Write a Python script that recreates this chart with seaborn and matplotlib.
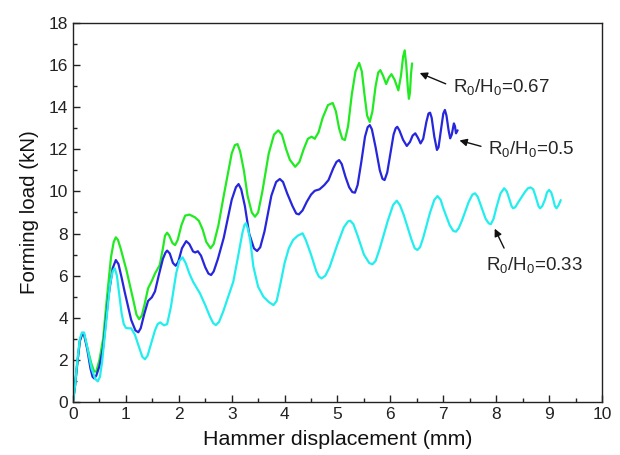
import numpy as np
import pandas as pd
import matplotlib
matplotlib.use('Agg')
import matplotlib.pyplot as plt
from matplotlib.ticker import MultipleLocator
import seaborn as sns

x_067 = [0.0, 0.04, 0.08, 0.13, 0.17, 0.21, 0.27, 0.35, 0.4, 0.44, 0.5, 0.57, 0.64, 0.72, 0.77, 0.81,
         0.85, 0.9, 1.01, 1.14, 1.2, 1.25, 1.3, 1.35, 1.42, 1.49, 1.55, 1.64, 1.7, 1.74, 1.78,
         1.82, 1.88, 1.93, 1.98, 2.05, 2.12, 2.2, 2.3, 2.38, 2.45, 2.52, 2.6, 2.66, 2.75, 2.85,
         3.0, 3.06, 3.11, 3.16, 3.23, 3.3, 3.38, 3.44, 3.5, 3.58, 3.7, 3.8, 3.88, 3.95, 4.03,
         4.1, 4.2, 4.28, 4.36, 4.44, 4.51, 4.57, 4.64, 4.72, 4.82, 4.91, 4.97, 5.03, 5.09, 5.14,
         5.2, 5.27, 5.34, 5.41, 5.46, 5.51, 5.56, 5.61, 5.66, 5.72, 5.77, 5.81, 5.86, 5.92, 5.97,
         6.02, 6.08, 6.15, 6.2, 6.24, 6.27, 6.3, 6.33, 6.35, 6.37, 6.39, 6.41]
y_067 = [0.0, 0.8, 1.8, 2.9, 3.2, 3.2, 2.6, 1.8, 1.45, 1.44, 2.0, 3.0, 4.9, 6.9, 7.6, 7.82,
         7.7, 7.3, 6.27, 4.84, 4.15, 3.93, 4.1, 4.6, 5.4, 5.75, 6.1, 6.5, 7.3, 7.9, 8.04,
         7.9, 7.55, 7.45, 7.7, 8.4, 8.85, 8.9, 8.78, 8.6, 8.2, 7.6, 7.3, 7.5, 8.4, 9.8,
         11.8, 12.2, 12.25, 11.9, 11.0, 9.8, 9.0, 8.8, 9.0, 10.0, 11.8, 12.7, 12.9, 12.7, 12.0,
         11.5, 11.17, 11.4, 12.0, 12.5, 12.6, 12.5, 12.8, 13.5, 14.1, 14.2, 13.8, 13.0, 12.5, 12.44,
         13.1, 14.6, 15.7, 16.1, 15.7, 14.6, 13.6, 13.3, 13.8, 15.0, 15.65, 15.76, 15.5, 15.1, 15.4,
         15.57, 15.3, 14.8, 15.5, 16.4, 16.7, 16.0, 14.9, 14.4, 14.7, 15.6, 16.08]

x_05 = [0.0, 0.04, 0.08, 0.13, 0.17, 0.21, 0.27, 0.33, 0.37, 0.4, 0.44, 0.5, 0.57, 0.67, 0.75, 0.81,
        0.86, 0.92, 0.98, 1.1, 1.18, 1.235, 1.28, 1.35, 1.42, 1.49, 1.55, 1.62, 1.7, 1.75, 1.78,
        1.83, 1.89, 1.94, 1.99, 2.06, 2.14, 2.2, 2.27, 2.31, 2.36, 2.42, 2.5, 2.56, 2.61, 2.66,
        2.74, 2.85, 3.0, 3.08, 3.13, 3.18, 3.25, 3.33, 3.42, 3.48, 3.54, 3.62, 3.75, 3.84, 3.91,
        3.97, 4.05, 4.15, 4.22, 4.27, 4.34, 4.42, 4.5, 4.57, 4.66, 4.75, 4.83, 4.92, 4.98, 5.03,
        5.08, 5.15, 5.22, 5.28, 5.33, 5.38, 5.45, 5.52, 5.57, 5.61, 5.65, 5.72, 5.8, 5.85, 5.89,
        5.94, 6.0, 6.06, 6.1, 6.13, 6.17, 6.24, 6.31, 6.37, 6.42, 6.47, 6.52, 6.57, 6.62, 6.68,
        6.72, 6.75, 6.78, 6.83, 6.88, 6.91, 6.96, 7.0, 7.03, 7.06, 7.1, 7.13, 7.16, 7.2, 7.22,
        7.24, 7.27]
y_05 = [0.0, 0.8, 1.8, 2.9, 3.2, 3.2, 2.5, 1.6, 1.2, 1.12, 1.25, 1.7, 2.6, 5.0, 6.35, 6.74,
        6.55, 5.9, 5.2, 3.9, 3.4, 3.31, 3.5, 4.2, 4.8, 4.97, 5.25, 6.0, 6.8, 7.1, 7.19,
        7.05, 6.6, 6.47, 6.65, 7.3, 7.64, 7.5, 7.15, 7.1, 7.16, 6.95, 6.4, 6.1, 6.03, 6.2,
        6.8, 7.8, 9.6, 10.2, 10.35, 10.1, 9.3, 8.0, 7.3, 7.17, 7.35, 8.1, 9.8, 10.45, 10.59,
        10.45, 9.9, 9.3, 8.95, 8.91, 9.1, 9.51, 9.85, 10.03, 10.1, 10.3, 10.54, 11.1, 11.4, 11.49,
        11.3, 10.7, 10.2, 9.97, 9.94, 10.3, 11.4, 12.6, 13.05, 13.15, 12.95, 12.1, 11.0, 10.6, 10.54,
        10.9, 11.8, 12.7, 13.0, 13.07, 12.9, 12.45, 12.16, 12.35, 12.65, 12.76, 12.55, 12.28, 12.5, 13.3,
        13.7, 13.74, 13.5, 12.6, 11.97, 12.1, 13.0, 13.7, 13.87, 13.6, 12.9, 12.52, 12.7, 13.23, 13.1,
        12.76, 12.9]

x_033 = [0.0, 0.04, 0.08, 0.13, 0.17, 0.21, 0.27, 0.35, 0.42, 0.47, 0.51, 0.55, 0.62, 0.7, 0.75, 0.79,
         0.83, 0.87, 0.92, 0.96, 1.0, 1.05, 1.1, 1.17, 1.25, 1.31, 1.36, 1.41, 1.48, 1.55, 1.6,
         1.65, 1.72, 1.78, 1.85, 1.95, 2.01, 2.07, 2.13, 2.2, 2.27, 2.4, 2.5, 2.59, 2.65, 2.7,
         2.76, 2.84, 2.92, 3.03, 3.12, 3.2, 3.24, 3.27, 3.31, 3.35, 3.41, 3.5, 3.6, 3.7, 3.79,
         3.85, 3.92, 4.0, 4.08, 4.16, 4.25, 4.34, 4.4, 4.5, 4.6, 4.65, 4.7, 4.77, 4.85, 5.0,
         5.12, 5.2, 5.24, 5.3, 5.38, 5.5, 5.6, 5.66, 5.72, 5.8, 5.95, 6.05, 6.12, 6.18, 6.25,
         6.4, 6.46, 6.51, 6.56, 6.62, 6.75, 6.83, 6.89, 6.95, 7.0, 7.12, 7.19, 7.24, 7.29, 7.35,
         7.48, 7.55, 7.6, 7.65, 7.7, 7.8, 7.86, 7.9, 7.95, 8.0, 8.08, 8.15, 8.2, 8.24, 8.29,
         8.32, 8.36, 8.42, 8.55, 8.6, 8.65, 8.7, 8.74, 8.8, 8.83, 8.87, 8.92, 8.96, 9.0, 9.04,
         9.07, 9.11, 9.14, 9.18, 9.22]
y_033 = [0.0, 0.8, 1.9, 3.0, 3.3, 3.3, 2.6, 1.6, 1.1, 0.98, 1.2, 1.9, 3.6, 5.6, 6.2, 6.35,
         6.0, 5.2, 4.2, 3.7, 3.52, 3.5, 3.5, 3.2, 2.6, 2.15, 2.03, 2.2, 2.8, 3.4, 3.7,
         3.78, 3.64, 3.7, 4.5, 6.1, 6.7, 6.87, 6.6, 6.1, 5.71, 5.16, 4.6, 4.05, 3.75, 3.65,
         3.8, 4.3, 4.9, 5.71, 6.9, 8.0, 8.4, 8.49, 8.2, 7.69, 6.43, 5.47, 5.0, 4.75, 4.6,
         4.8, 5.6, 6.6, 7.3, 7.69, 7.9, 8.01, 7.7, 7.0, 6.2, 5.95, 5.87, 6.0, 6.4, 7.5,
         8.3, 8.58, 8.61, 8.45, 7.9, 7.0, 6.6, 6.54, 6.7, 7.3, 8.6, 9.35, 9.56, 9.35, 8.9,
         7.7, 7.3, 7.22, 7.35, 7.8, 9.0, 9.6, 9.78, 9.6, 9.2, 8.4, 8.12, 8.09, 8.25, 8.6,
         9.5, 9.85, 9.91, 9.75, 9.4, 8.7, 8.48, 8.45, 8.7, 9.2, 9.9, 10.15, 10.0, 9.7, 9.3,
         9.2, 9.25, 9.5, 10.0, 10.15, 10.19, 10.1, 9.8, 9.3, 9.2, 9.3, 9.6, 9.95, 10.07, 9.95,
         9.7, 9.3, 9.2, 9.35, 9.59]

labels = ['R$_\\mathregular{0}$/H$_\\mathregular{0}$=0.67',
          'R$_\\mathregular{0}$/H$_\\mathregular{0}$=0.5',
          'R$_\\mathregular{0}$/H$_\\mathregular{0}$=0.33']

sns.set_style('ticks')
plt.rcParams['font.family'] = ['Liberation Sans', 'DejaVu Sans']
plt.rcParams['mathtext.default'] = 'regular'

fig = plt.figure(figsize=(6.2, 4.55), dpi=100)
ax = fig.add_axes([0.1177, 0.1165, 0.8533, 0.833])

c_green, c_blue, c_cyan = '#22ea22', '#2626dc', '#22eeee'
for xs, ys, col in [(x_067, y_067, c_green), (x_05, y_05, c_blue), (x_033, y_033, c_cyan)]:
    sns.lineplot(x=xs, y=ys, color=col, lw=1.6, estimator=None, sort=False, ax=ax,
                 solid_joinstyle='round')

ax.set_xlim(0, 10)
ax.set_ylim(0, 18)
ax.xaxis.set_major_locator(MultipleLocator(1))
ax.xaxis.set_minor_locator(MultipleLocator(0.5))
ax.yaxis.set_major_locator(MultipleLocator(2))
ax.yaxis.set_minor_locator(MultipleLocator(1))
ax.tick_params(which='both', direction='in', top=False, right=False, labelsize=12.5,
               colors='#222222', width=1.0)
ax.tick_params(which='major', length=5)
ax.tick_params(which='minor', length=3)
for sp in ax.spines.values():
    sp.set_linewidth(1.0)
    sp.set_color('#222222')
    sp.set_visible(True)

ax.set_xlabel('Hammer displacement (mm)', fontsize=15.4, color='#111111', labelpad=6)
ax.set_ylabel('Forming load (kN)', fontsize=14.8, color='#111111', labelpad=7)

arrow = dict(arrowstyle='-|>', color='#111111', lw=1.0, mutation_scale=11, shrinkA=3, shrinkB=1)
ax.annotate(labels[0], xy=(6.53, 15.65), xytext=(7.18, 14.97), fontsize=13.5,
            ha='left', va='center', arrowprops=dict(arrow, relpos=(0, 0.5)))
ax.annotate(labels[1], xy=(7.28, 12.44), xytext=(7.85, 12.0), fontsize=13.5,
            ha='left', va='center', arrowprops=dict(arrow, relpos=(0, 0.55)))
ax.annotate(labels[2], xy=(7.96, 8.29), xytext=(7.81, 6.5), fontsize=13.5,
            ha='left', va='center', arrowprops=dict(arrow, relpos=(0.22, 1.0)))

fig.savefig('out.png', dpi=100)
